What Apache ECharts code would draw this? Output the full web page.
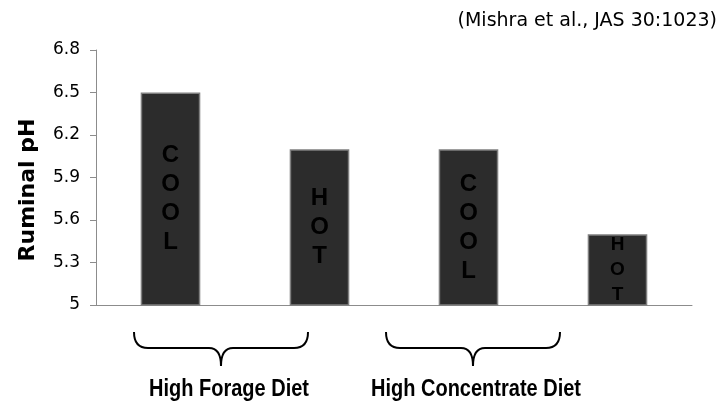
<!DOCTYPE html>
<html>
<head>
<meta charset="utf-8">
<script src="https://cdn.jsdelivr.net/npm/echarts@6/dist/echarts.min.js"></script>
<style>
  html, body { margin: 0; padding: 0; background: #fff; }
  #chart { width: 723px; height: 406px; }
</style>
</head>
<body>
<div id="chart"></div>
<script>
// data
const categories = ['High Forage Cool', 'High Forage Hot', 'High Concentrate Cool', 'High Concentrate Hot']
const phValues = [6.5, 6.1, 6.1, 5.5]
const barLetters = ['COOL', 'HOT', 'COOL', 'HOT']
const yTicks = [5, 5.3, 5.6, 5.9, 6.2, 6.5, 6.8]
const groupNames = ['High Forage Diet', 'High Concentrate Diet']
const yTitle = 'Ruminal pH'
const source = '(Mishra et al., JAS 30:1023)'

const chart = echarts.init(document.getElementById('chart'))

// 花括号（注释用），宽 174，中点 87
function brace(x, y) {
  const st = { fill: 'none', stroke: '#000', lineWidth: 2 }
  const q = (x1, y1, cx, cy, x2, y2) => ({ type: 'bezierCurve', shape: { x1, y1, cpx1: cx, cpy1: cy, x2, y2 }, style: st })
  const l = (x1, y1, x2, y2) => ({ type: 'line', shape: { x1, y1, x2, y2 }, style: st })
  return {
    type: 'group', x, y,
    children: [
      q(0, 0, 0, 16, 14, 16),
      l(14, 16, 75, 16),
      q(75, 16, 87, 16, 87, 34),
      q(87, 34, 87, 16, 99, 16),
      l(99, 16, 160, 16),
      q(160, 16, 174, 16, 174, 0),
    ],
  }
}

// 最后一根柱子字号小一点
const labelFont = [24, 24, 24, 19]
const labelLine = [29, 29, 29, 25]

const textStyle = (text, font) => ({
  text, fill: '#000', font,
  align: 'center', verticalAlign: 'middle', textAlign: 'center', textVerticalAlign: 'middle',
})

chart.setOption({
  animation: false,
  grid: { left: 96, right: 31, top: 50, bottom: 101 },
  xAxis: {
    type: 'category',
    data: categories,
    axisLine: { lineStyle: { color: '#8c8c8c', width: 1 } },
    axisTick: { length: 5, lineStyle: { color: '#8c8c8c' } },
    axisLabel: { show: false },
  },
  yAxis: {
    type: 'value',
    min: yTicks[0],
    max: yTicks[yTicks.length - 1],
    axisLine: { show: true, lineStyle: { color: '#8c8c8c', width: 1 } },
    axisTick: { show: true, length: 6, customValues: yTicks, lineStyle: { color: '#8c8c8c' } },
    axisLabel: {
      customValues: yTicks,
      margin: 16,
      color: '#000',
      fontFamily: 'DejaVu Sans',
      fontSize: 17,
      formatter: v => String(v),
    },
    splitLine: { show: false },
  },
  series: [
    {
      type: 'bar',
      barWidth: '40%',
      data: phValues.map((v, i) => ({
        value: v,
        label: { fontSize: labelFont[i], lineHeight: labelLine[i] },
      })),
      itemStyle: { color: '#2c2c2c', borderColor: '#7f7f7f', borderWidth: 1.5 },
      label: {
        show: true,
        position: 'inside',
        color: '#000',
        fontWeight: 'bold',
        fontFamily: 'Liberation Sans',
        formatter: p => barLetters[p.dataIndex].split('').join('\n'),
      },
    },
  ],
  graphic: [
    {
      type: 'text',
      x: 717, y: 21,
      style: Object.assign(textStyle(source, '19px "DejaVu Sans"'), { align: 'right', textAlign: 'right' }),
    },
    {
      type: 'text',
      x: 28, y: 190,
      rotation: Math.PI / 2,
      style: textStyle(yTitle, 'bold 22px "DejaVu Sans"'),
    },
    brace(134, 332),
    brace(386, 332),
    { type: 'text', x: 229, y: 390, scaleY: 1.15, style: textStyle(groupNames[0], 'bold 20px "Liberation Sans"') },
    { type: 'text', x: 476, y: 390, scaleY: 1.15, style: textStyle(groupNames[1], 'bold 20px "Liberation Sans"') },
  ],
})
</script>
</body>
</html>
